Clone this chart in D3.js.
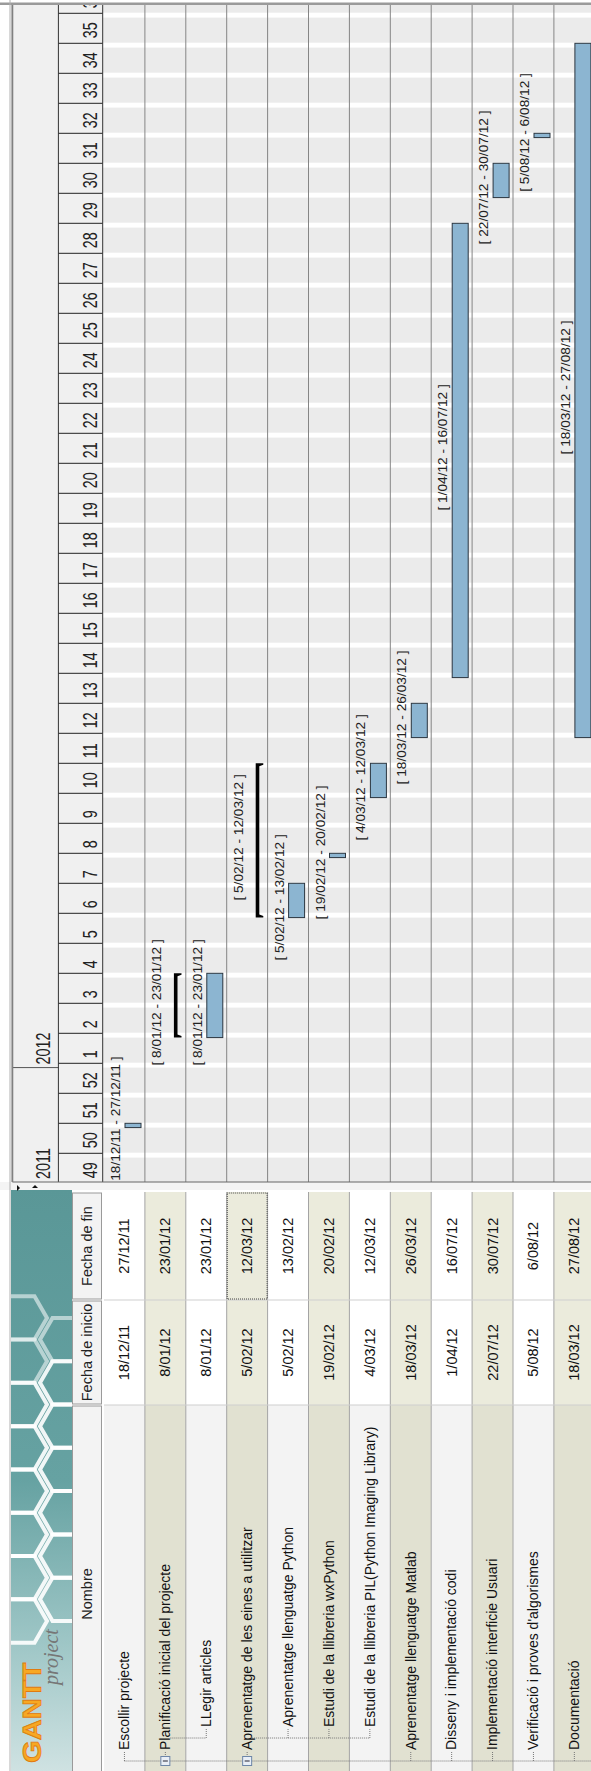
<!DOCTYPE html>
<html><head><meta charset="utf-8">
<script src="https://cdn.jsdelivr.net/npm/d3@7"></script>
<style>body{margin:0;background:#fff;overflow:hidden}</style>
</head><body>
<svg id="c" width="591" height="1771"></svg>
<script>
// ---------- DATA ----------
const tasks = ["Escollir projecte","Planificació inicial del projecte","LLegir articles",
  "Aprenentatge de les eines a utilitzar","Aprenentatge llenguatge Python",
  "Estudi de la llibreria wxPython","Estudi de la llibreria PIL(Python Imaging Library)",
  "Aprenentatge llenguatge Matlab","Disseny i implementació codi",
  "Implementació interficie Usuari","Verificació i proves d'algorismes","Documentació"];
const taskLevel   = [0,0,1,0,1,1,1,0,0,0,0,0];
const taskSummary = [0,1,0,1,0,0,0,0,0,0,0,0];
const startText = ["18/12/11","8/01/12","8/01/12","5/02/12","5/02/12","19/02/12","4/03/12","18/03/12","1/04/12","22/07/12","5/08/12","18/03/12"];
const endText   = ["27/12/11","23/01/12","23/01/12","12/03/12","13/02/12","20/02/12","12/03/12","26/03/12","16/07/12","30/07/12","6/08/12","27/08/12"];
const barStart = ["2011-12-18","2012-01-08","2012-01-08","2012-02-05","2012-02-05","2012-02-19","2012-03-04","2012-03-18","2012-04-01","2012-07-22","2012-08-05","2012-03-18"];
const barEnd   = ["2011-12-19","2012-01-23","2012-01-23","2012-03-12","2012-02-13","2012-02-20","2012-03-12","2012-03-26","2012-07-16","2012-07-30","2012-08-06","2012-08-27"];
const weekLabels = [49,50,51,52,1,2,3,4,5,6,7,8,9,10,11,12,13,14,15,16,17,18,19,20,21,22,23,24,25,26,27,28,29,30,31,32,33,34,35,36];
const yearLabels = ["2011","2012"];
const yearStarts = ["2011-12-05","2012-01-01"];
const columnHeaders = ["Nombre","Fecha de inicio","Fecha de fin"];
const timeDomain = ["2011-12-05","2012-09-10"];

// ---------- SETUP ----------
const W = 591, H = 1771;
const P = s => new Date(s + "T00:00:00Z");
const FONT = "Liberation Sans, Arial, sans-serif";
const svg = d3.select("#c");
svg.append("rect").attr("width",W).attr("height",H).attr("fill","#fff");
// unrotated frame: u along reading direction (screen bottom->top), v = screen x
const g = svg.append("g").attr("transform",`translate(0,${H}) rotate(-90)`);

const x = d3.scaleUtc().domain(timeDomain.map(P)).range([587.7, 1787.7]);
const rows = d3.scaleBand().domain(d3.range(tasks.length)).range([104, 104 + 40.9*tasks.length]);
const rh = rows.bandwidth();
const chartL = 589, chartR = 1766;
const hdrTop = 12.4, yrBot = 58.4, wkBot = 102.7;

const defs = svg.append("defs");
defs.append("clipPath").attr("id","chartClip").append("rect")
  .attr("x",chartL).attr("y",0).attr("width",chartR-chartL).attr("height",W);
defs.append("clipPath").attr("id","tableClip").append("rect")
  .attr("x",0).attr("y",0).attr("width",581).attr("height",W);
defs.append("clipPath").attr("id","logoClip").append("rect")
  .attr("x",0).attr("y",11).attr("width",582).attr("height",61);
const grad = defs.append("linearGradient").attr("id","logoG").attr("x1","0").attr("x2","1").attr("y1","0").attr("y2","0");
grad.append("stop").attr("offset","0").attr("stop-color","#cfe2e2");
grad.append("stop").attr("offset","0.22").attr("stop-color","#9ec6c6");
grad.append("stop").attr("offset","0.5").attr("stop-color","#66a2a2");
grad.append("stop").attr("offset","1").attr("stop-color","#5a9797");

// ---------- CHART ----------
const ch = g.append("g").attr("clip-path","url(#chartClip)");
ch.append("rect").attr("x",chartL).attr("y",hdrTop).attr("width",chartR-chartL).attr("height",wkBot-hdrTop).attr("fill","#f0f0f0");
ch.append("rect").attr("x",chartL).attr("y",wkBot).attr("width",chartR-chartL).attr("height",W-wkBot).attr("fill","#ebebeb");

// Sunday stripes
const sundays = d3.utcSunday.range(x.domain()[0], x.domain()[1]);
ch.selectAll("rect.sun").data(sundays).join("rect").attr("class","sun")
  .attr("x",d=>x(d)).attr("width",d=>x(d3.utcDay.offset(d,1))-x(d)+0.6)
  .attr("y",wkBot).attr("height",W-wkBot).attr("fill","#ffffff");

// row separators
ch.selectAll("line.rowsep").data(d3.range(tasks.length)).join("line").attr("class","rowsep")
  .attr("x1",chartL).attr("x2",chartR)
  .attr("y1",i=>rows(i)+rh).attr("y2",i=>rows(i)+rh)
  .attr("stroke","#858585").attr("stroke-width",1);

// header lines
const mondays = d3.utcMonday.range(x.domain()[0], x.domain()[1]);
ch.selectAll("line.wk").data(mondays).join("line").attr("class","wk")
  .attr("x1",d=>x(d)).attr("x2",d=>x(d)).attr("y1",yrBot).attr("y2",wkBot)
  .attr("stroke","#222").attr("stroke-width",1);
ch.selectAll("text.wk").data(mondays).join("text").attr("class","wk")
  .attr("transform",d=>`translate(${x(d)+5},96.5) scale(0.72,1)`)
  .attr("font-family",FONT).attr("font-size",20).attr("fill","#222")
  .text((d,i)=>weekLabels[i]);
ch.selectAll("line.yr").data(yearStarts.slice(1)).join("line").attr("class","yr")
  .attr("x1",d=>x(P(d))).attr("x2",d=>x(P(d))).attr("y1",hdrTop).attr("y2",yrBot)
  .attr("stroke","#555").attr("stroke-width",1);
ch.selectAll("text.yr").data(yearStarts).join("text").attr("class","yr")
  .attr("transform",d=>`translate(${Math.max(x(P(d)),chartL)+3},50) scale(0.72,1)`)
  .attr("font-family",FONT).attr("font-size",20).attr("fill","#222")
  .text((d,i)=>yearLabels[i]);
[[hdrTop,"#808080",1.5],[yrBot,"#333",1],[wkBot,"#333",1]].forEach(([v,c,w])=>{
  ch.append("line").attr("x1",chartL).attr("x2",chartR).attr("y1",v).attr("y2",v).attr("stroke",c).attr("stroke-width",w);
});

// bars
const idx = d3.range(tasks.length);
const normal = idx.filter(i=>!taskSummary[i]);
const summ = idx.filter(i=>taskSummary[i]);
ch.selectAll("rect.bar").data(normal).join("rect").attr("class","bar")
  .attr("x",i=>x(P(barStart[i]))).attr("width",i=>x(P(barEnd[i]))-x(P(barStart[i])))
  .attr("y",i=>rows(i)+21).attr("height",16)
  .attr("fill","#8cb5d1").attr("stroke","#2b3640").attr("stroke-width",1);
ch.selectAll("path.sum").data(summ).join("path").attr("class","sum")
  .attr("d",i=>{
    const a=x(P(barStart[i])), b=x(P(barEnd[i])), t=rows(i)+29, m=t+3.6, e=t+7.6;
    return `M${a},${t}H${b}V${e}L${b-1.5},${e}L${b-3},${m}H${a+3}L${a+1.5},${e}H${a}Z`;
  }).attr("fill","#000");
ch.selectAll("text.lbl").data(idx).join("text").attr("class","lbl")
  .attr("x",i=>(x(P(barStart[i]))+x(P(barEnd[i])))/2+3)
  .attr("y",i=>rows(i)+16)
  .attr("text-anchor","middle")
  .attr("font-family",FONT).attr("font-size",13.7).attr("fill","#222")
  .text(i=>`[ ${startText[i]} - ${endText[i]} ]`);

g.append("rect").attr("x",chartR).attr("y",0).attr("width",2.5).attr("height",W).attr("fill","#9a9a9a");

// ---------- TABLE ----------
const tb = g.append("g").attr("clip-path","url(#tableClip)");
// logo panel
const lg = tb.append("g").attr("clip-path","url(#logoClip)");
lg.append("rect").attr("x",0).attr("y",11).attr("width",582).attr("height",61).attr("fill","url(#logoG)");
// honeycomb outline (decoration)
const hexR = 25;
const hex = (cx,cy)=>d3.range(6).map(k=>[cx+hexR*Math.cos(Math.PI/3*k+Math.PI/6), cy+hexR*Math.sin(Math.PI/3*k+Math.PI/6)]);
const hexCenters = [];
[[22,0],[65,1]].forEach(([cv,off])=>{
  for(let k=0;k<9;k++){ const cu = 150 + k*43.3 + off*21.65; if(cu<470) hexCenters.push([cu,cv]); }
});
lg.append("g").selectAll("path").data(hexCenters).join("path")
  .attr("d",c=>"M"+hex(c[0],c[1]).join("L")+"Z")
  .attr("fill","none").attr("stroke","#ffffff").attr("stroke-width",4)
  .attr("opacity",c=>c[0]>400?0.55:0.9);
// GANTT project logo
tb.append("text").attr("transform","translate(8,41) scale(1.12,1)")
  .attr("font-family",FONT).attr("font-weight","bold").attr("font-size",26)
  .attr("fill","#f7a823").attr("stroke","#e07b10").attr("stroke-width",0.8).text("GANTT");
tb.append("text").attr("x",86).attr("y",58)
  .attr("font-family","Liberation Serif, serif").attr("font-style","italic").attr("font-size",20)
  .attr("fill","#767676").text("project");

// columns
const colEdges = [[-12,366],[366,471],[471,579]];
// header
tb.selectAll("rect.hd").data(colEdges).join("rect").attr("class","hd")
  .attr("x",d=>d[0]+1).attr("y",72.5).attr("width",d=>d[1]-d[0]-2).attr("height",29)
  .attr("fill","#f3f3f3").attr("stroke","#9a9a9a");
tb.selectAll("text.hd").data(colEdges).join("text").attr("class","hd")
  .attr("x",d=>(d[0]+d[1])/2).attr("y",92).attr("text-anchor","middle")
  .attr("font-family",FONT).attr("font-size",14.5).attr("fill","#222")
  .text((d,i)=>columnHeaders[i]);
// cells
const cellFill = (i,c)=> i%2===0 ? (c===0?"#f3f3f3":"#ffffff") : (c===0?"#e1e1d1":"#ebebdc");
idx.forEach(i=>{
  colEdges.forEach((d,c)=>{
    tb.append("rect").attr("x",d[0]).attr("y",rows(i)).attr("width",d[1]-d[0]).attr("height",rh)
      .attr("fill",cellFill(i,c));
  });
});
tb.selectAll("line.trow").data(idx).join("line").attr("class","trow")
  .attr("x1",-12).attr("x2",579).attr("y1",i=>rows(i)+rh).attr("y2",i=>rows(i)+rh)
  .attr("stroke","#a4a4a4");
[366,471].forEach(u=>tb.append("line").attr("x1",u).attr("x2",u).attr("y1",rows(0)).attr("y2",W).attr("stroke","#cfcfcf"));
// tree lines
const tl = (x1,y1,x2,y2)=>tb.append("line").attr("x1",x1).attr("y1",y1).attr("x2",x2).attr("y2",y2)
  .attr("stroke","#777").attr("stroke-width",1).attr("stroke-dasharray","1,1");
const cy = i=>rows(i)+rh/2;
tl(10,cy(0),10,W);
idx.forEach(i=>{
  if(taskLevel[i]===0){ tl(10,cy(i),20,cy(i)); }
  else { tl(33,cy(i),43,cy(i)); }
});
[[1,2],[3,6]].forEach(([p,c])=>tl(33,cy(p)+5,33,cy(c)));
summ.forEach(i=>{
  tb.append("rect").attr("x",5.5).attr("y",cy(i)-4.5).attr("width",9).attr("height",9).attr("fill","#e8eef6").attr("stroke","#6d86a8");
  tb.append("line").attr("x1",10).attr("x2",10).attr("y1",cy(i)-2.5).attr("y2",cy(i)+2.5).attr("stroke","#223");
});
// texts
tb.selectAll("text.nm").data(idx).join("text").attr("class","nm")
  .attr("x",i=>taskLevel[i]?44:21).attr("y",i=>cy(i)+4.8)
  .attr("font-family",FONT).attr("font-size",14).attr("fill","#111")
  .text(i=>tasks[i]);
tb.selectAll("text.st").data(idx).join("text").attr("class","st")
  .attr("x",(366+471)/2).attr("y",i=>cy(i)+5).attr("text-anchor","middle")
  .attr("font-family",FONT).attr("font-size",14.5).attr("fill","#111")
  .text(i=>startText[i]);
tb.selectAll("text.en").data(idx).join("text").attr("class","en")
  .attr("x",(471+579)/2).attr("y",i=>cy(i)+5).attr("text-anchor","middle")
  .attr("font-family",FONT).attr("font-size",14.5).attr("fill","#111")
  .text(i=>endText[i]);
// selected cell
tb.append("rect").attr("x",472).attr("y",rows(3)+0.5).attr("width",106).attr("height",rh-1)
  .attr("fill","none").attr("stroke","#444").attr("stroke-dasharray","1,1");

// divider between table and chart
g.append("rect").attr("x",581).attr("y",0).attr("width",8).attr("height",W).attr("fill","#f4f4f4");
g.append("line").attr("x1",589).attr("x2",589).attr("y1",hdrTop).attr("y2",W).attr("stroke","#666");
g.append("path").attr("d","M586,17l-3,3l-3,-3Z").attr("fill","#111");
g.append("path").attr("d","M583,32l3,3l-3,3Z").attr("fill","#111");
g.append("line").attr("x1",589).attr("x2",chartR).attr("y1",hdrTop).attr("y2",hdrTop).attr("stroke","#808080").attr("stroke-width",1.5);
g.append("line").attr("x1",0).attr("x2",H).attr("y1",10).attr("y2",10).attr("stroke","#b0b0b0").attr("stroke-width",1);
</script>
</body></html>
